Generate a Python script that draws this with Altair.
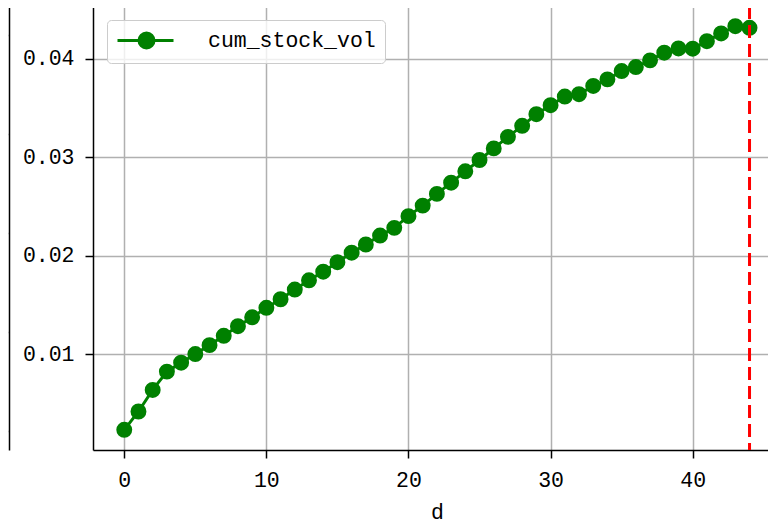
import altair as alt
import pandas as pd

FONT = "Liberation Mono"

days = list(range(45))
cum_stock_vol = [
    0.00231, 0.00417, 0.00636, 0.00822, 0.00913, 0.01000, 0.01091, 0.01186, 0.01283, 0.01374,
    0.01470, 0.01557, 0.01655, 0.01749, 0.01837, 0.01933, 0.02030, 0.02113, 0.02204, 0.02282,
    0.02401, 0.02508, 0.02627, 0.02741, 0.02856, 0.02971, 0.03089, 0.03206, 0.03318, 0.03436,
    0.03528, 0.03615, 0.03639, 0.03723, 0.03790, 0.03874, 0.03915, 0.03983, 0.04061, 0.04104,
    0.04101, 0.04178, 0.04256, 0.04330, 0.04314,
]
series_name = "cum_stock_vol"
vline_x = [44]
x_ticks = [0, 10, 20, 30, 40]
y_ticks = [0.01, 0.02, 0.03, 0.04]
x_domain = [-2.2, 45.3]
y_domain = [0.00026, 0.04535]

# sliver of the neighbouring panel on the left (only its gridlines show)
left_panel_ticks = [1, 2, 3, 4, 5]
left_panel_domain = [0.808, 5.293]

GREEN = "#008000"
GRID = "#b0b0b0"

df = pd.DataFrame({"d": days, "value": cum_stock_vol, "series": [series_name] * len(days)})
xscale = alt.Scale(domain=x_domain, nice=False, zero=False)
yscale = alt.Scale(domain=y_domain, nice=False, zero=False)

# legend symbol: a line with a filled circle on it
LEG_PATH = "M -1.0 0 L 4.6 0 M 2.65 0 A 0.75 0.75 0 1 1 1.15 0 A 0.75 0.75 0 1 1 2.65 0 Z"

axis_common = dict(
    labelFont=FONT, labelFontSize=21.5, labelColor="black",
    tickColor="black", tickSize=8, tickWidth=1.5,
    domainColor="black", domainWidth=1.5,
    grid=True, gridColor=GRID, gridWidth=1.5,
)

line = alt.Chart(df).mark_line(
    strokeWidth=3,
    point=alt.OverlayMarkDef(size=254, filled=True, opacity=1),
).encode(
    x=alt.X("d:Q", scale=xscale, axis=alt.Axis(
        values=x_ticks, title="d", titleFont=FONT, titleFontSize=21.5,
        titleFontWeight="normal", titleColor="black", titlePadding=11, titleX=344,
        labelPadding=11, **axis_common)),
    y=alt.Y("value:Q", scale=yscale, axis=alt.Axis(
        values=y_ticks, format=".2f", title=None, labelPadding=11, **axis_common)),
    color=alt.Color("series:N", scale=alt.Scale(domain=[series_name], range=[GREEN]),
                    legend=alt.Legend(
                        title=None, orient="none", legendX=99, legendY=14,
                        symbolType=LEG_PATH, symbolSize=400, symbolStrokeWidth=3,
                        symbolFillColor=GREEN, symbolStrokeColor=GREEN, symbolOpacity=1,
                        labelFont=FONT, labelFontSize=21.5, labelColor="black",
                        labelOffset=69, labelLimit=400, padding=9, cornerRadius=4,
                        strokeColor="#cccccc", fillColor="rgba(255,255,255,0.8)")),
)

vline = alt.Chart(pd.DataFrame({"d": vline_x})).mark_rule(
    color="#ff0000", strokeWidth=3, strokeDash=[13, 6]
).encode(
    x=alt.X("d:Q", scale=xscale, axis=alt.Axis(
        orient="top", labels=False, ticks=False, domain=True, grid=False, title=None,
        domainColor="black", domainWidth=1.5)),
)

main = alt.layer(line, vline).resolve_axis(x="independent").properties(width=675, height=444)

left = alt.Chart(pd.DataFrame({"v": left_panel_ticks})).mark_point(opacity=0, size=0).encode(
    y=alt.Y("v:Q", scale=alt.Scale(domain=left_panel_domain, nice=False, zero=False),
            axis=alt.Axis(orient="right", values=left_panel_ticks, labels=False, ticks=False,
                          domain=True, domainColor="black", domainWidth=1.5,
                          grid=True, gridColor=GRID, gridWidth=1.5, title=None)),
).properties(width=1, height=444)

chart = alt.hconcat(left, main, spacing=13).properties(
    padding={"left": 0, "top": -4, "right": 0, "bottom": 0}
).configure_view(strokeWidth=0)

chart.save("out.html", embed_options={"renderer": "svg", "actions": False})
